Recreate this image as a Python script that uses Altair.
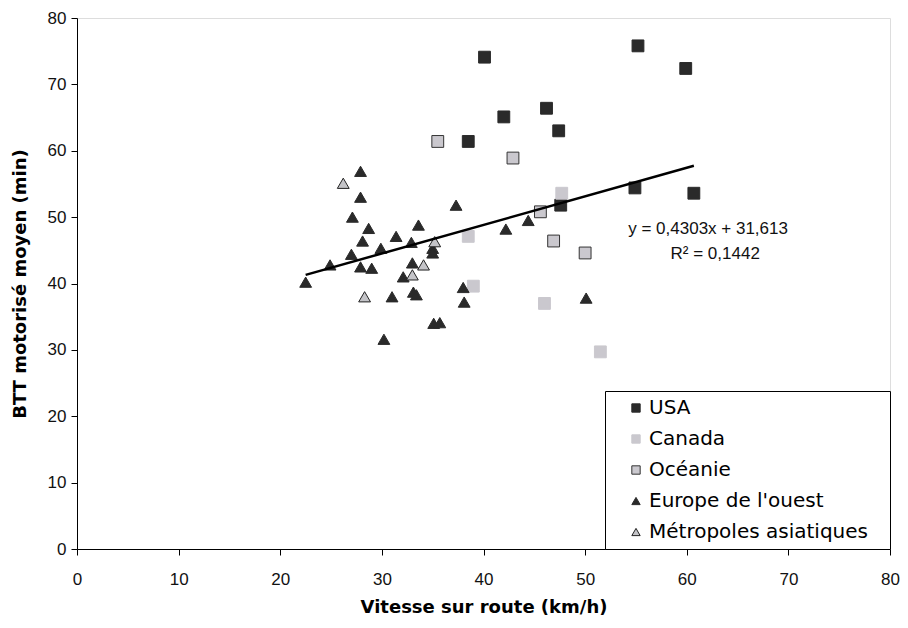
import altair as alt
import pandas as pd

regions = ["USA", "Canada", "Océanie", "Europe de l'ouest", "Métropoles asiatiques"]

usa_x = [40.1, 55.2, 59.9, 46.2, 42.0, 47.4, 38.5, 47.6, 54.9, 60.7]
usa_y = [74.1, 75.8, 72.4, 66.4, 65.1, 63.0, 61.4, 51.8, 54.4, 53.6]

canada_x = [38.5, 39.0, 46.0, 47.7, 51.5]
canada_y = [47.1, 39.6, 37.0, 53.6, 29.7]

oceanie_x = [35.5, 42.9, 45.6, 46.9, 50.0]
oceanie_y = [61.4, 58.9, 50.8, 46.4, 44.6]

europe_x = [27.9, 27.9, 27.1, 28.7, 28.1, 31.4, 33.6, 37.3, 29.9, 32.9,
            35.0, 35.0, 27.0, 24.9, 22.5, 27.9, 29.0, 33.0, 32.1, 38.0,
            38.1, 31.0, 33.1, 33.4, 35.1, 35.7, 30.2, 42.2, 44.4, 50.1]
europe_y = [56.9, 53.0, 50.0, 48.3, 46.4, 47.1, 48.8, 51.8, 45.3, 46.2,
            45.3, 44.6, 44.4, 42.8, 40.2, 42.5, 42.3, 43.1, 41.0, 39.4,
            37.2, 38.0, 38.7, 38.3, 34.0, 34.1, 31.6, 48.2, 49.5, 37.8]

asie_x = [26.2, 35.2, 34.1, 33.0, 28.3]
asie_y = [55.1, 46.3, 42.8, 41.3, 38.0]

slope = 0.4303
intercept = 31.613
eq_labels = ["y = 0,4303x + 31,613", "R² = 0,1442"]
eq_x = [62.1, 62.8]
eq_y = [48.2, 44.4]

x_ticks = [0, 10, 20, 30, 40, 50, 60, 70, 80]
y_ticks = [0, 10, 20, 30, 40, 50, 60, 70, 80]

series = [
    ("USA", usa_x, usa_y),
    ("Canada", canada_x, canada_y),
    ("Océanie", oceanie_x, oceanie_y),
    ("Europe de l'ouest", europe_x, europe_y),
    ("Métropoles asiatiques", asie_x, asie_y),
]
rows = []
for name, xs, ys in series:
    for a, b in zip(xs, ys):
        rows.append({"region": name, "x": a, "y": b})
df = pd.DataFrame(rows)

xmin, xmax = df["x"].min(), df["x"].max()
trend = pd.DataFrame({"x": [xmin, xmax],
                      "y": [slope * xmin + intercept, slope * xmax + intercept]})
eq_df = pd.DataFrame({"label": eq_labels, "x": eq_x, "y": eq_y})

xscale = alt.Scale(domain=[0, 80], nice=False)
yscale = alt.Scale(domain=[0, 80], nice=False)

fill_range = ["#2a2a2a", "#cac8ce", "#cac8ce", "#2a2a2a", "#c4c4c8"]
stroke_range = ["#2a2a2a", "#cac8ce", "#333333", "#2a2a2a", "#222222"]
shape_range = ["square", "square", "square", "triangle-up", "triangle-up"]

leg = alt.Legend(
    title=None, orient="bottom-right", offset=0,
    fillColor="white", strokeColor="black", padding=7,
    labelFont="DejaVu Sans", labelFontSize=20, labelColor="black",
    symbolSize=70, symbolStrokeWidth=1, rowPadding=11, labelOffset=3,
    symbolOffset=14, labelLimit=300,
    labelExpr="datum.label + '\u2800'",
)

x_axis = alt.Axis(values=x_ticks, title="Vitesse sur route (km/h)", grid=False,
                  labelFont="Liberation Sans", labelFontSize=17, labelColor="#111",
                  tickSize=6, tickColor="black", domainColor="black",
                  labelPadding=16, titleFont="DejaVu Sans", titleFontSize=18,
                  titleFontWeight="bold", titleColor="black", titlePadding=11,
                  labelFlush=False)
y_axis = alt.Axis(values=y_ticks, title="BTT motorisé moyen (min)", grid=False,
                  labelFont="Liberation Sans", labelFontSize=17, labelColor="#111",
                  tickSize=6, tickColor="black", domainColor="black",
                  labelPadding=5, titleFont="DejaVu Sans", titleFontSize=18,
                  titleFontWeight="bold", titleColor="black", titlePadding=18,
                  labelFlush=False)

points = alt.Chart(df).mark_point(filled=True, opacity=1, strokeWidth=1, size=140).encode(
    x=alt.X("x:Q", scale=xscale, axis=x_axis),
    y=alt.Y("y:Q", scale=yscale, axis=y_axis),
    shape=alt.Shape("region:N", scale=alt.Scale(domain=regions, range=shape_range), legend=leg),
    fill=alt.Fill("region:N", scale=alt.Scale(domain=regions, range=fill_range), legend=leg),
    stroke=alt.Stroke("region:N", scale=alt.Scale(domain=regions, range=stroke_range), legend=leg),
)

line = alt.Chart(trend).mark_line(color="black", strokeWidth=2.5).encode(
    x=alt.X("x:Q", scale=xscale),
    y=alt.Y("y:Q", scale=yscale),
)

text = alt.Chart(eq_df).mark_text(font="Liberation Sans", fontSize=17, color="#111",
                                  align="center", baseline="middle").encode(
    x=alt.X("x:Q", scale=xscale),
    y=alt.Y("y:Q", scale=yscale),
    text="label:N",
)

chart = alt.layer(points, line, text).properties(
    width=813, height=531,
    autosize=alt.AutoSizeParams(type="none"),
    padding={"left": 69, "top": 10, "right": 10, "bottom": 70},
).configure_view(stroke="black", strokeWidth=1).configure(background="white")

chart.save("out.html", embed_options={"renderer": "svg", "actions": False})
